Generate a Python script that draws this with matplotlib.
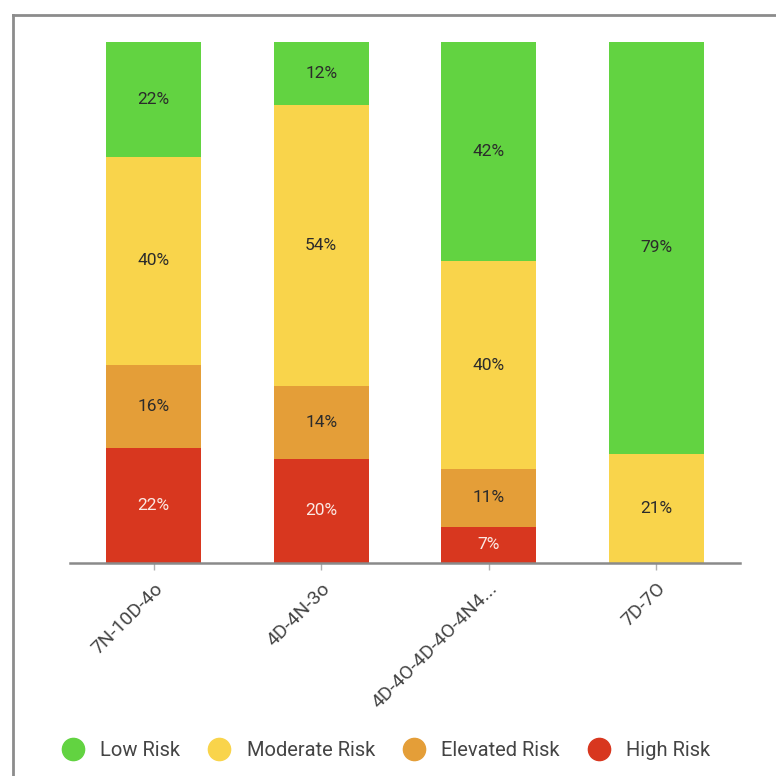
import matplotlib.pyplot as plt
from matplotlib.lines import Line2D
import numpy as np

categories = ["7N-10D-4o", "4D-4N-3o", "4D-4O-4D-4O-4N4...", "7D-7O"]
series_names = ["High Risk", "Elevated Risk", "Moderate Risk", "Low Risk"]
high_risk = [22, 20, 7, 0]
elevated_risk = [16, 14, 11, 0]
moderate_risk = [40, 54, 40, 21]
low_risk = [22, 12, 42, 79]

colors = {
    "Low Risk": "#62D341",
    "Moderate Risk": "#F9D44B",
    "Elevated Risk": "#E49E38",
    "High Risk": "#D8371F",
}
label_colors = {
    "Low Risk": "#2b2b2b",
    "Moderate Risk": "#2b2b2b",
    "Elevated Risk": "#2b2b2b",
    "High Risk": "#fbe9e4",
}

plt.rcParams["font.family"] = ["Roboto", "DejaVu Sans"]

fig = plt.figure(figsize=(7.76, 7.76), dpi=100)
ax = fig.add_axes([0.0902, 0.2745, 0.8634, 0.6714])

x = np.arange(len(categories))
bottom = np.zeros(len(categories))
for name, vals in zip(series_names, [high_risk, elevated_risk, moderate_risk, low_risk]):
    vals = np.array(vals, dtype=float)
    ax.bar(x, vals, width=0.57, bottom=bottom, color=colors[name], zorder=2)
    for xi, b, v in zip(x, bottom, vals):
        if v > 0:
            ax.text(xi, b + v / 2, f"{int(v)}%", ha="center", va="center",
                    fontsize=12.5, color=label_colors[name], zorder=3)
    bottom += vals

ax.set_xlim(-0.5, 3.5)
ax.set_ylim(0, 100)
ax.set_yticks([])
for s in ["top", "right", "left"]:
    ax.spines[s].set_visible(False)
ax.spines["bottom"].set_color("#8a8a8a")
ax.spines["bottom"].set_linewidth(1.8)
ax.spines["bottom"].set_zorder(4)

ax.set_xticks(x)
ax.set_xticklabels(categories, rotation=45, ha="right", rotation_mode="anchor",
                   fontsize=14, color="#444444")
ax.tick_params(axis="x", length=5, width=1, color="#b0b0b0", pad=7)

# legend
handles = [Line2D([0], [0], marker="o", linestyle="", markersize=16,
                  markerfacecolor=colors[n], markeredgecolor=colors[n], label=n)
           for n in ["Low Risk", "Moderate Risk", "Elevated Risk", "High Risk"]]
leg = fig.legend(handles=handles, loc="center", bbox_to_anchor=(0.497, 0.033), ncol=4,
                 frameon=False, fontsize=14.5, handletextpad=0.75, columnspacing=1.35,
                 handlelength=1.2)
for t in leg.get_texts():
    t.set_color("#444444")

# card frame
fig.add_artist(Line2D([0.017, 1.0], [0.981, 0.981], color="#8c8c8c", linewidth=2))
fig.add_artist(Line2D([0.017, 0.017], [0.0, 0.981], color="#8c8c8c", linewidth=2))

fig.savefig("out.png", dpi=100, facecolor="white")
